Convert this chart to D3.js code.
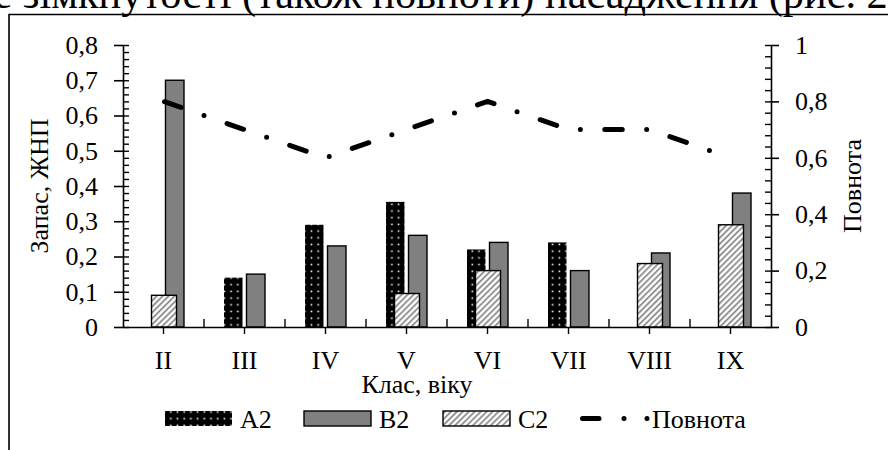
<!DOCTYPE html>
<html>
<head>
<meta charset="utf-8">
<script src="https://cdn.jsdelivr.net/npm/d3@7"></script>
<style>
  body { margin: 0; background: #fff; }
  svg { display: block; }
  svg text { font-family: "Liberation Serif", "Times New Roman", Times, "DejaVu Serif", serif; }
</style>
</head>
<body>
<svg width="888" height="450"></svg>
<script>
// data
var categories = ["II", "III", "IV", "V", "VI", "VII", "VIII", "IX"];
var a2 = [0, 0.14, 0.29, 0.355, 0.22, 0.24, 0, 0];
var b2 = [0.70, 0.15, 0.23, 0.26, 0.24, 0.16, 0.21, 0.38];
var c2 = [0.09, 0, 0, 0.095, 0.16, 0, 0.18, 0.29];
var povnota = [0.8, 0.7, 0.6, 0.7, 0.8, 0.7, 0.7, 0.6];
var leftTicks = [0, 0.1, 0.2, 0.3, 0.4, 0.5, 0.6, 0.7, 0.8];
var rightTicks = [0, 0.2, 0.4, 0.6, 0.8, 1];

var svg = d3.select("svg");
var fmt = d => String(+d.toFixed(2)).replace(".", ",");

var x0 = 123, x1 = 771, yTop = 45, yBot = 327;

var x = d3.scaleBand().domain(categories).range([x0, x1]);
var xs = d3.scaleBand().domain(["A2", "B2"]).range([20, 61]).paddingInner(0.178);
var y = d3.scaleLinear().domain([0, 0.8]).range([yBot, yTop]);
var y2 = d3.scaleLinear().domain([0, 1]).range([yBot, yTop]);

// patterns
var defs = svg.append("defs");
var dots = defs.append("pattern")
  .attr("id", "dots").attr("patternUnits", "userSpaceOnUse")
  .attr("width", 6.7).attr("height", 6.7);
dots.append("rect").attr("width", 6.7).attr("height", 6.7).attr("fill", "#000");
dots.append("rect").attr("x", 2.5).attr("y", 2.5).attr("width", 1.6).attr("height", 1.6).attr("fill", "#fff");

var hatch = defs.append("pattern")
  .attr("id", "hatch").attr("patternUnits", "userSpaceOnUse")
  .attr("width", 4.2).attr("height", 4.2)
  .attr("patternTransform", "rotate(45)");
hatch.append("rect").attr("width", 4.2).attr("height", 4.2).attr("fill", "#fff");
hatch.append("line").attr("x1", 1).attr("y1", 0).attr("x2", 1).attr("y2", 4.2)
  .attr("stroke", "#8c8c8c").attr("stroke-width", 1.8);

// caption from the page above (cut off)
svg.append("text")
  .attr("x", -6.5).attr("y", 7.5)
  .attr("font-size", 42.3)
  .text("е зімкнутості (також повноти) насадження (рис. 2");

// frame
svg.append("path")
  .attr("d", "M9,452 V14.5 H890")
  .attr("fill", "none").attr("stroke", "#000").attr("stroke-width", 1.6);

// bars
var rows = categories.map((c, i) => ({ cat: c, a2: a2[i], b2: b2[i], c2: c2[i] }));

svg.append("g").selectAll("rect")
  .data(rows.filter(d => d.a2 > 0))
  .join("rect")
  .attr("x", d => x(d.cat) + xs("A2"))
  .attr("width", xs.bandwidth())
  .attr("y", d => y(d.a2))
  .attr("height", d => yBot - y(d.a2))
  .attr("fill", "url(#dots)");

svg.append("g").selectAll("rect")
  .data(rows.filter(d => d.b2 > 0))
  .join("rect")
  .attr("x", d => x(d.cat) + xs("B2"))
  .attr("width", xs.bandwidth())
  .attr("y", d => y(d.b2))
  .attr("height", d => yBot - y(d.b2))
  .attr("fill", "#808080")
  .attr("stroke", "#000").attr("stroke-width", 1.4);

svg.append("g").selectAll("rect")
  .data(rows.filter(d => d.c2 > 0))
  .join("rect")
  .attr("x", d => x(d.cat) + x.bandwidth() / 2 - 12)
  .attr("width", 25)
  .attr("y", d => y(d.c2))
  .attr("height", d => yBot - y(d.c2))
  .attr("fill", "url(#hatch)")
  .attr("stroke", "#000").attr("stroke-width", 1.4);

// x axis
var xAxis = svg.append("g")
  .attr("transform", `translate(0,${yBot})`)
  .call(d3.axisBottom(x).tickSize(7).tickPadding(17).tickSizeOuter(0));
xAxis.attr("font-family", null);
xAxis.select(".domain").attr("stroke-width", 1.4);
xAxis.selectAll(".tick line").attr("stroke-width", 1.4);
xAxis.selectAll("text").attr("font-size", 26);

// boundary ticks pointing up
svg.append("g").selectAll("line")
  .data(d3.range(1, categories.length))
  .join("line")
  .attr("x1", i => x0 + i * x.step()).attr("x2", i => x0 + i * x.step())
  .attr("y1", yBot).attr("y2", yBot - 8)
  .attr("stroke", "#000").attr("stroke-width", 1.4);

// left axis
var yAxis = svg.append("g").attr("transform", `translate(${x0},0)`)
  .call(d3.axisLeft(y).tickValues(leftTicks).tickSize(9).tickPadding(16).tickFormat(fmt).tickSizeOuter(0));
yAxis.attr("font-family", null);
yAxis.select(".domain").attr("stroke-width", 1.6);
yAxis.selectAll(".tick line").attr("stroke-width", 1.6);
yAxis.selectAll("text").attr("font-size", 26);
svg.append("g").attr("transform", `translate(${x0},0)`)
  .call(d3.axisRight(y).tickValues(d3.range(0, 41).map(i => i * 0.02)).tickSize(6).tickFormat("").tickSizeOuter(0))
  .call(g => g.select(".domain").remove())
  .selectAll("line").attr("stroke-width", 1.4);

// right axis
var y2Axis = svg.append("g").attr("transform", `translate(${x1},0)`)
  .call(d3.axisRight(y2).tickValues(rightTicks).tickSize(8).tickPadding(16).tickFormat(fmt).tickSizeOuter(0));
y2Axis.attr("font-family", null);
y2Axis.select(".domain").attr("stroke-width", 1.6);
y2Axis.selectAll(".tick line").attr("stroke-width", 1.6);
y2Axis.selectAll("text").attr("font-size", 26);
svg.append("g").attr("transform", `translate(${x1},0)`)
  .call(d3.axisLeft(y2).tickValues(d3.range(0, 26).map(i => i * 0.04)).tickSize(6).tickFormat("").tickSizeOuter(0))
  .call(g => g.select(".domain").remove())
  .selectAll("line").attr("stroke-width", 1.4);

// Повнота line (long dash - dot)
var line = d3.line()
  .x((d, i) => x(categories[i]) + x.bandwidth() / 2)
  .y(d => y2(d));
svg.append("path")
  .datum(povnota)
  .attr("d", line)
  .attr("fill", "none")
  .attr("stroke", "#000")
  .attr("stroke-width", 5)
  .attr("stroke-linecap", "round")
  .attr("stroke-dasharray", "17.5 24.4 0 24.4")
  .attr("stroke-dashoffset", -1);

// axis titles
svg.append("text")
  .attr("transform", `translate(48,${(yTop + yBot) / 2}) rotate(-90)`)
  .attr("text-anchor", "middle").attr("font-size", 26)
  .text("Запас, ЖНП");
svg.append("text")
  .attr("transform", `translate(861,${(yTop + yBot) / 2}) rotate(-90)`)
  .attr("text-anchor", "middle").attr("font-size", 26)
  .text("Повнота");
svg.append("text")
  .attr("x", 417).attr("y", 393)
  .attr("text-anchor", "middle").attr("font-size", 26)
  .text("Клас, віку");

// legend
var legend = svg.append("g");
var sw = [
  { name: "A2", x: 165, fill: "url(#dots)", stroke: "none" },
  { name: "B2", x: 304, fill: "#808080", stroke: "#000" },
  { name: "C2", x: 443, fill: "url(#hatch)", stroke: "#000" }
];
legend.selectAll("rect").data(sw).join("rect")
  .attr("x", d => d.x).attr("y", 411).attr("width", 67).attr("height", 15)
  .attr("fill", d => d.fill).attr("stroke", d => d.stroke).attr("stroke-width", 1.4);
legend.selectAll("text.s").data(sw).join("text")
  .attr("class", "s")
  .attr("x", d => d.x + 75).attr("y", 428).attr("font-size", 26)
  .text(d => d.name);
legend.append("line")
  .attr("x1", 582.5).attr("x2", 599).attr("y1", 418.5).attr("y2", 418.5)
  .attr("stroke", "#000").attr("stroke-width", 5).attr("stroke-linecap", "round");
legend.selectAll("circle").data([624, 647]).join("circle")
  .attr("cx", d => d).attr("cy", 418.5).attr("r", 2.5).attr("fill", "#000");
legend.append("text")
  .attr("x", 652).attr("y", 428).attr("font-size", 26)
  .text("Повнота");
</script>
</body>
</html>
